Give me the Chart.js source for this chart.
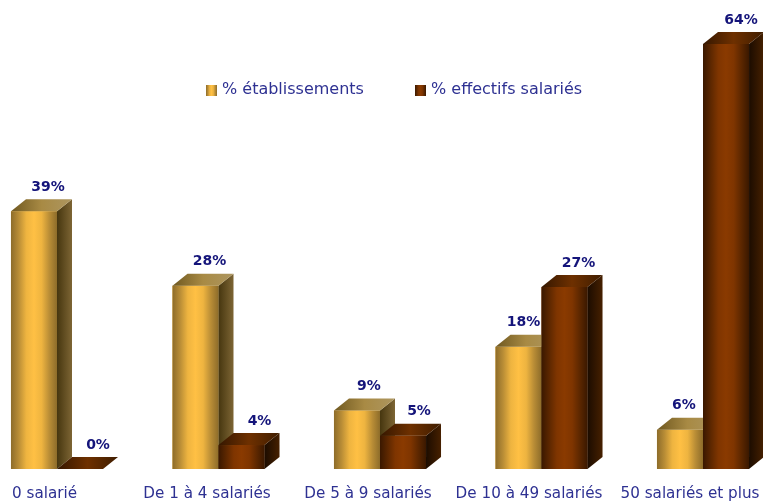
<!DOCTYPE html>
<html>
<head>
<meta charset="utf-8">
<style>
body { margin: 0; background: #fff; }
canvas { display: block; }
</style>
<script src="https://cdn.jsdelivr.net/npm/chart.js@4"></script>
</head>
<body>
<canvas id="chart" width="763" height="503"></canvas>
<script>
// Données
const categories = ['0 salarié', 'De 1 à 4 salariés', 'De 5 à 9 salariés', 'De 10 à 49 salariés', '50 salariés et plus'];
const seriesNames = ['% établissements', '% effectifs salariés'];
const etablissements = [38.8, 27.6, 8.8, 18.4, 5.9];
const effectifs = [0, 3.6, 5, 27.4, 64];

// Décalages des textes par rapport aux barres / graduations
const tickShift = [-12.5, -11.5, -12, -12.5, -13];
const valueShift = [[14, 14, 12, 5, 4], [18, 18, 16, 14, 15]];
const legendX = [206, 415];

const depthX = 15, depthY = 12;
const textColor = '#2e3192';

const palettes = [
    {
        front: ['#8d6c2a', '#b98d36', '#eeb440', '#ffc044', '#eeb440', '#b98d36', '#8d6c2a'],
        top: ['#6f5820', '#a88a44', '#ad9660'],
        side: ['#46360f', '#7d6534']
    },
    {
        front: ['#3a1800', '#5c2700', '#7f3500', '#8a3a00', '#7f3500', '#5c2700', '#3a1800'],
        top: ['#351700', '#6e3000', '#3f1d00'],
        side: ['#1c0c00', '#462000']
    }
];

function hGradient(ctx, x0, x1, colors) {
    const g = ctx.createLinearGradient(x0, 0, x1, 0);
    colors.forEach((c, i) => g.addColorStop(i / (colors.length - 1), c));
    return g;
}

function poly(ctx, pts, fill) {
    ctx.beginPath();
    pts.forEach((p, i) => i ? ctx.lineTo(p[0], p[1]) : ctx.moveTo(p[0], p[1]));
    ctx.closePath();
    ctx.fillStyle = fill;
    ctx.fill();
}

// Dessine le volume (face, dessus, côté) des barres, puis les textes
const bars3d = {
    id: 'bars3d',
    afterDatasetsDraw(chart) {
        const ctx = chart.ctx;
        ctx.save();
        chart.data.datasets.forEach((ds, i) => {
            const pal = palettes[i];
            chart.getDatasetMeta(i).data.forEach(bar => {
                const l = bar.x - bar.width / 2, r = bar.x + bar.width / 2;
                const t = bar.y, b = bar.base;
                if (b > t) {
                    ctx.fillStyle = hGradient(ctx, l, r, pal.front);
                    ctx.fillRect(l, t, r - l, b - t);
                    poly(ctx, [[r, t], [r + depthX, t - depthY], [r + depthX, b - depthY], [r, b]], hGradient(ctx, r, r + depthX, pal.side));
                }
                poly(ctx, [[l, t], [l + depthX, t - depthY], [r + depthX, t - depthY], [r, t]], hGradient(ctx, l, r + depthX, pal.top));
            });
        });

        ctx.textAlign = 'center';
        ctx.textBaseline = 'middle';
        ctx.fillStyle = '#14147a';
        ctx.font = 'bold 14px "DejaVu Sans"';
        chart.data.datasets.forEach((ds, i) => {
            chart.getDatasetMeta(i).data.forEach((bar, j) => {
                ctx.fillText(Math.round(ds.data[j]) + '%', bar.x + valueShift[i][j], bar.y - 24);
            });
        });

        const xScale = chart.scales.x;
        ctx.fillStyle = textColor;
        ctx.font = '15.2px "DejaVu Sans"';
        categories.forEach((c, i) => {
            ctx.fillText(c, xScale.getPixelForTick(i) + tickShift[i], 494);
        });

        // Légende
        ctx.textAlign = 'left';
        ctx.font = '16px "DejaVu Sans"';
        seriesNames.forEach((name, i) => {
            ctx.fillStyle = hGradient(ctx, legendX[i], legendX[i] + 11, palettes[i].front);
            ctx.fillRect(legendX[i], 85, 11, 11);
            ctx.fillStyle = textColor;
            ctx.fillText(name, legendX[i] + 16, 90);
        });
        ctx.restore();
    }
};

const canvas = document.getElementById('chart');
new Chart(canvas.getContext('2d'), {
    type: 'bar',
    data: {
        labels: categories,
        datasets: [
            { label: seriesNames[0], data: etablissements, backgroundColor: '#ffc044', clip: false },
            { label: seriesNames[1], data: effectifs, backgroundColor: '#8a3a00', clip: false }
        ]
    },
    options: {
        responsive: false,
        animation: false,
        categoryPercentage: 0.57,
        barPercentage: 1,
        layout: { autoPadding: false, padding: { left: 57, right: 60, top: 32, bottom: 26 } },
        scales: {
            x: { offset: false, grid: { display: false }, border: { display: false }, ticks: { display: false } },
            y: { display: false, min: 0, max: 65.8 }
        },
        plugins: {
            tooltip: { enabled: false },
            legend: { display: false }
        }
    },
    plugins: [bars3d]
});
</script>
</body>
</html>
